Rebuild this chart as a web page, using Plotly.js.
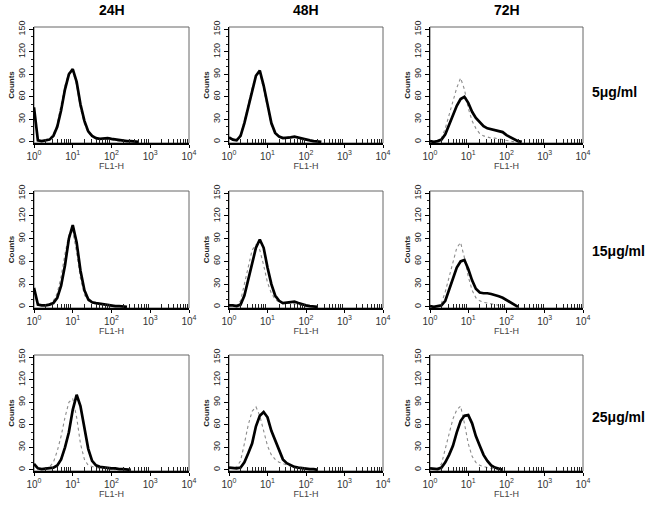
<!DOCTYPE html>
<html><head><meta charset="utf-8">
<script src="https://cdn.plot.ly/plotly-3.0.1.min.js"></script>
<style>html,body{margin:0;padding:0;background:#fff}#chart{width:652px;height:505px}</style>
</head><body><div id="chart"></div>
<script>
// Fluorescence channel values (FL1-H), one per 0.1 decade
const channels = [1, 1.26, 1.58, 2.0, 2.51, 3.16, 3.98, 5.01, 6.31, 7.94, 10, 12.6, 15.8, 20, 25.1, 31.6, 39.8, 50.1, 63.1, 79.4, 100, 126, 158, 200, 251, 316, 398, 501, 631, 794, 1000];

const timeLabels = ['24H', '48H', '72H'];
const doseLabels = ['5μg/ml', '15μg/ml', '25μg/ml'];
const xTickVals = [1, 10, 100, 1000, 10000];
const xTickText = ['10<sup>0</sup>', '10<sup>1</sup>', '10<sup>2</sup>', '10<sup>3</sup>', '10<sup>4</sup>'];
const yTickVals = [0, 30, 60, 90, 120, 150];

// Counts (black = treated, grey dotted = control)
const treated_5_24h  = [46, 2, 1, 2, 3, 8, 20, 42, 70, 90, 97, 80, 50, 28, 14, 8, 5, 4, 5, 5, 4, 3, 2, 2, 1, 1, 1, 0];
const control_5_24h  = [40, 2, 1, 2, 4, 10, 24, 48, 75, 92, 95, 75, 45, 24, 12, 7, 5, 4, 4, 4, 3, 2, 1, 1, 0];
const treated_5_48h  = [6, 3, 2, 8, 25, 45, 68, 88, 95, 75, 50, 25, 12, 7, 5, 5, 6, 7, 6, 4, 3, 2, 1, 1, 0];
const control_5_48h  = [5, 3, 3, 10, 28, 50, 72, 88, 92, 70, 45, 22, 12, 8, 6, 6, 7, 7, 5, 3, 2, 1, 0];
const treated_5_72h  = [1, 0, 1, 3, 10, 22, 35, 48, 57, 60, 52, 40, 32, 26, 21, 18, 17, 16, 15, 13, 9, 6, 3, 1, 0];
const control_5_72h  = [1, 0, 1, 5, 18, 35, 55, 72, 85, 70, 45, 28, 18, 11, 8, 6, 5, 5, 4, 3, 2, 1, 0];

const treated_15_24h = [25, 3, 2, 2, 3, 5, 12, 28, 55, 90, 108, 85, 48, 22, 10, 6, 5, 4, 4, 3, 2, 1, 1, 1, 0];
const control_15_24h = [20, 3, 2, 2, 4, 8, 18, 40, 70, 95, 100, 72, 38, 16, 8, 5, 4, 3, 3, 2, 1, 1, 0];
const treated_15_48h = [2, 2, 1, 3, 15, 35, 58, 78, 89, 78, 52, 30, 15, 8, 5, 6, 7, 7, 5, 3, 2, 1, 1, 0];
const control_15_48h = [2, 2, 2, 8, 30, 55, 75, 82, 75, 55, 32, 18, 10, 6, 5, 5, 5, 4, 3, 2, 1, 0];
const treated_15_72h = [1, 0, 1, 2, 8, 22, 38, 52, 60, 62, 50, 35, 24, 19, 18, 18, 17, 16, 14, 12, 9, 6, 3, 0];
const control_15_72h = [1, 0, 1, 5, 20, 40, 62, 78, 85, 65, 40, 22, 12, 8, 6, 5, 4, 3, 2, 1, 0];

const treated_25_24h = [8, 2, 1, 2, 2, 3, 6, 14, 30, 50, 80, 100, 85, 55, 28, 12, 6, 4, 3, 3, 2, 2, 1, 1, 1, 0];
const control_25_24h = [6, 2, 1, 2, 4, 10, 25, 45, 70, 90, 95, 70, 35, 14, 6, 4, 3, 2, 2, 1, 1, 0];
const treated_25_48h = [3, 2, 2, 3, 10, 22, 35, 58, 72, 77, 70, 52, 40, 25, 14, 9, 6, 4, 3, 2, 2, 1, 1, 0];
const control_25_48h = [3, 2, 4, 12, 35, 60, 78, 84, 72, 50, 32, 20, 14, 10, 8, 6, 5, 4, 3, 2, 1, 0];
const treated_25_72h = [2, 1, 1, 3, 10, 20, 32, 50, 65, 72, 73, 62, 45, 32, 20, 12, 6, 3, 1, 0];
const control_25_72h = [2, 1, 2, 8, 28, 50, 68, 80, 85, 62, 35, 18, 10, 6, 4, 3, 2, 1, 0];

const panels = [
  [treated_5_24h, control_5_24h], [treated_5_48h, control_5_48h], [treated_5_72h, control_5_72h],
  [treated_15_24h, control_15_24h], [treated_15_48h, control_15_48h], [treated_15_72h, control_15_72h],
  [treated_25_24h, control_25_24h], [treated_25_48h, control_25_48h], [treated_25_72h, control_25_72h]
];

const W = 652, H = 505;
const colPx = [[34, 189], [229, 383], [430, 583]];
const rowPx = [[27, 143], [191, 308], [355, 471]];
const rowLabelY = [92, 251, 417];

const minorX = [];
for (let d = 0; d < 4; d++) for (let m = 2; m <= 9; m++) minorX.push(m * Math.pow(10, d));
const minorY = [];
for (let v = 0; v <= 150; v += 10) if (v % 30 !== 0) minorY.push(v);

const FONT = 'Liberation Sans, Arial, Helvetica, sans-serif';
const data = [];
const layout = {
  width: W, height: H, margin: {l: 0, r: 0, t: 0, b: 0},
  showlegend: false, paper_bgcolor: '#fff', plot_bgcolor: '#fff',
  font: {family: FONT, color: '#222'},
  annotations: [], shapes: []
};

panels.forEach((p, i) => {
  const r = Math.floor(i / 3), c = i % 3, n = i + 1;
  const sfx = n > 1 ? String(n) : '';
  const xs = 'x' + sfx, ys = 'y' + sfx;
  data.push({x: channels, y: p[1], xaxis: xs, yaxis: ys, type: 'scatter', mode: 'lines',
    line: {color: '#8c8c8c', width: 1.1, dash: 'dot'}, hoverinfo: 'skip'});
  data.push({x: channels, y: p[0], xaxis: xs, yaxis: ys, type: 'scatter', mode: 'lines',
    line: {color: '#000', width: 2.7}, hoverinfo: 'skip'});
  layout['xaxis' + sfx] = {
    domain: [colPx[c][0] / W, colPx[c][1] / W], anchor: ys, type: 'log', range: [0, 4],
    tickmode: 'array', tickvals: xTickVals, ticktext: xTickText,
    ticks: 'outside', ticklen: 3, tickcolor: '#000', tickwidth: 1,
    tickfont: {family: FONT, size: 10, color: '#333'},
    showline: true, linecolor: '#000', linewidth: 1.5, showgrid: false, zeroline: false,
    minor: {tickmode: 'array', tickvals: minorX, ticks: 'inside', ticklen: 4, tickcolor: '#222', tickwidth: 1, showgrid: false},
    title: {text: 'FL1-H', font: {family: FONT, size: 9, color: '#444'}, standoff: 0},
    fixedrange: true
  };
  layout['yaxis' + sfx] = {
    domain: [1 - rowPx[r][1] / H, 1 - rowPx[r][0] / H], anchor: xs, range: [-1.5, 153],
    tickmode: 'array', tickvals: yTickVals, tickangle: -90,
    ticks: 'outside', ticklen: 4, tickcolor: '#000', tickwidth: 1,
    tickfont: {family: FONT, size: 9, color: '#222'},
    showline: true, linecolor: '#000', linewidth: 1.5, showgrid: false, zeroline: false,
    minor: {tickmode: 'array', tickvals: minorY, ticks: 'outside', ticklen: 2, tickcolor: '#222', showgrid: false},
    title: {text: '<b>Counts</b>', font: {family: FONT, size: 8, color: '#222'}, standoff: 1},
    fixedrange: true
  };
  layout.shapes.push({type: 'rect', xref: xs + ' domain', yref: ys + ' domain', x0: 0, x1: 1, y0: 0, y1: 1,
    line: {color: '#666', width: 1}, layer: 'below'});
});

timeLabels.forEach((t, c) => {
  layout.annotations.push({text: '<b>' + t + '</b>', xref: 'paper', yref: 'paper',
    x: (colPx[c][0] + colPx[c][1]) / 2 / W, y: 1 - 10 / H, xanchor: 'center', yanchor: 'middle',
    showarrow: false, font: {family: FONT, size: 14, color: '#000'}});
});
doseLabels.forEach((t, r) => {
  layout.annotations.push({text: '<b>' + t + '</b>', xref: 'paper', yref: 'paper',
    x: 590 / W, y: 1 - rowLabelY[r] / H, xanchor: 'left', yanchor: 'middle',
    showarrow: false, font: {family: FONT, size: 14, color: '#000'}});
});

Plotly.newPlot('chart', data, layout, {staticPlot: true, displayModeBar: false});
</script>
</body></html>
